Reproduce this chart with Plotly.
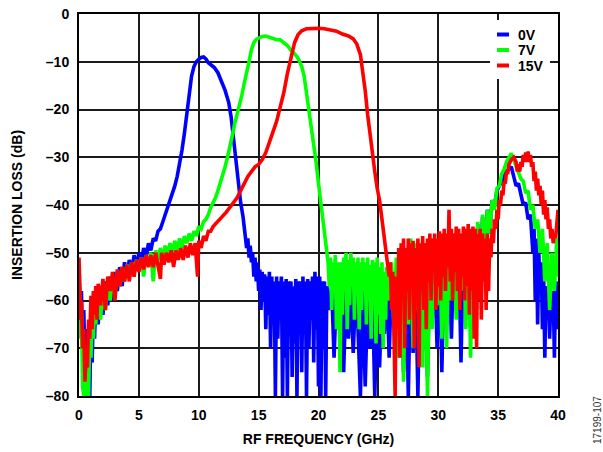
import plotly.graph_objects as go

# ---------------- data ----------------
SERIES_NAMES = ["0V", "7V", "15V"]
SERIES_COLORS = ["#0000FF", "#00FF00", "#FF0000"]

X_TICKS = [0, 5, 10, 15, 20, 25, 30, 35, 40]
X_TICK_TEXT = ["0", "5", "10", "15", "20", "25", "30", "35", "40"]
Y_TICKS = [0, -10, -20, -30, -40, -50, -60, -70, -80]
Y_TICK_TEXT = ["0", "–10", "–20", "–30", "–40", "–50", "–60", "–70", "–80"]

# 0V  (frequency GHz, insertion loss dB)
BLUE_0V = [
    (0.0, -53), (0.1, -64), (0.2, -58), (0.3, -70), (0.4, -62), (0.5, -76), (0.6, -66), (0.7, -80),
    (0.8, -68), (0.9, -80), (1.0, -64), (1.1, -73), (1.2, -61), (1.3, -68), (1.4, -59), (1.6, -65),
    (1.8, -57), (2.0, -63), (2.2, -56), (2.4, -61), (2.6, -55), (2.8, -60), (3.0, -54), (3.2, -58),
    (3.4, -53), (3.6, -57), (3.8, -52), (4.0, -55), (4.2, -51.5), (4.4, -54), (4.6, -50.5), (4.8, -53),
    (5.0, -50), (5.2, -52), (5.4, -49), (5.6, -51), (5.8, -48), (6.0, -49.5), (6.2, -47), (6.4, -47.5),
    (6.6, -45.5), (6.8, -45), (7.0, -43.5), (7.2, -42), (7.4, -41), (7.6, -39.5), (7.8, -38), (8.0, -36),
    (8.2, -34), (8.4, -31.5), (8.6, -28.5), (8.8, -25), (9.0, -21), (9.2, -16.5), (9.4, -13), (9.6, -11),
    (9.8, -10), (10.0, -9.5), (10.2, -9.1), (10.4, -9.0), (10.6, -9.4), (10.8, -10.2), (11.0, -10.6),
    (11.3, -11.2), (11.6, -12.3), (11.9, -14), (12.2, -16), (12.5, -18.5), (12.7, -21.5), (12.9, -26),
    (13.1, -31), (13.3, -36), (13.5, -39.5), (13.7, -42.5), (13.9, -46), (14.0, -49),
    (14.1, -47), (14.2, -51), (14.3, -48.5), (14.4, -52), (14.5, -50), (14.6, -55), (14.7, -51), (14.8, -56),
    (14.9, -52), (15.0, -58), (15.1, -53.5), (15.2, -62), (15.3, -54), (15.4, -60), (15.5, -54.5), (15.6, -66),
    (15.7, -55), (15.8, -63), (15.9, -54), (16.0, -70), (16.1, -55), (16.2, -64), (16.3, -56), (16.4, -80),
    (16.5, -55), (16.6, -68), (16.7, -56), (16.8, -62), (16.9, -55), (17.0, -80), (17.1, -56), (17.2, -72),
    (17.3, -55.5), (17.4, -80), (17.5, -56), (17.6, -66), (17.7, -56), (17.8, -76), (17.9, -57), (18.0, -69),
    (18.1, -55.5), (18.2, -80), (18.3, -56), (18.4, -64), (18.5, -56), (18.6, -75), (18.7, -55), (18.8, -67),
    (18.9, -56), (19.0, -80), (19.1, -55.5), (19.2, -70), (19.3, -56), (19.4, -64), (19.5, -55), (19.6, -73),
    (19.7, -54), (19.8, -66), (19.9, -55), (20.0, -78), (20.1, -55), (20.2, -80), (20.3, -56), (20.4, -70),
    (20.5, -56), (20.6, -80), (20.7, -57), (20.9, -62), (21.1, -57), (21.3, -72), (21.5, -58), (21.7, -66),
    (21.9, -57), (22.1, -75), (22.3, -58), (22.5, -68), (22.7, -57), (22.9, -71), (23.1, -58), (23.3, -66),
    (23.5, -80), (23.7, -58), (23.9, -78), (24.1, -60), (24.3, -70), (24.5, -57), (24.7, -80), (24.9, -59),
    (25.1, -74), (25.3, -58), (25.5, -67), (25.7, -56), (25.9, -72), (26.1, -55), (26.3, -65), (26.5, -54),
    (26.7, -70), (26.9, -53), (27.1, -75), (27.3, -54), (27.5, -80), (27.7, -53), (27.9, -71), (28.1, -54),
    (28.3, -80), (28.5, -52), (28.7, -68), (28.9, -53), (29.1, -76), (29.3, -52), (29.5, -64), (29.7, -51),
    (29.9, -70), (30.1, -51), (30.3, -75), (30.5, -50), (30.7, -63), (30.9, -49), (31.1, -68), (31.3, -50),
    (31.5, -62), (31.7, -48), (31.9, -73), (32.1, -48), (32.3, -60), (32.5, -47), (32.7, -65), (32.9, -45),
    (33.1, -58), (33.3, -44), (33.5, -55), (33.7, -42.5), (33.9, -50), (34.1, -41), (34.3, -46), (34.5, -39),
    (34.7, -40), (34.9, -37), (35.1, -36), (35.3, -35), (35.5, -34), (35.7, -33), (35.9, -32.5), (36.1, -32),
    (36.3, -34), (36.5, -36), (36.7, -35.5), (36.9, -38), (37.1, -40), (37.3, -39.5), (37.5, -43), (37.7, -42),
    (37.9, -50), (38.0, -45), (38.1, -60), (38.2, -47), (38.3, -65), (38.4, -50), (38.5, -58), (38.6, -52),
    (38.7, -66), (38.8, -55), (38.9, -72), (39.0, -57), (39.1, -64), (39.2, -58), (39.3, -68), (39.4, -60),
    (39.5, -63), (39.6, -58), (39.7, -72), (39.8, -57), (39.9, -66), (40.0, -56),
]

# 7V
GREEN_7V = [
    (0.0, -55), (0.1, -68), (0.2, -62), (0.3, -78), (0.4, -80), (0.5, -72), (0.6, -80), (0.7, -75),
    (0.8, -80), (0.9, -66), (1.0, -72), (1.1, -61), (1.2, -68), (1.3, -60), (1.4, -65), (1.6, -58),
    (1.8, -64), (2.0, -57), (2.2, -62), (2.4, -56), (2.6, -60), (2.8, -55), (3.0, -59), (3.2, -54),
    (3.4, -57), (3.6, -53), (3.8, -56), (4.0, -52.5), (4.2, -55), (4.4, -52), (4.6, -54), (4.8, -51.5),
    (5.0, -53.5), (5.2, -51), (5.4, -55), (5.6, -50.5), (5.8, -52), (6.0, -50), (6.2, -56), (6.4, -49.5),
    (6.6, -51.5), (6.8, -49), (7.0, -51), (7.2, -48.5), (7.4, -50.5), (7.6, -48), (7.8, -50), (8.0, -47.5),
    (8.2, -49.5), (8.4, -47), (8.6, -49), (8.8, -46.5), (9.0, -48), (9.2, -46), (9.4, -47.5), (9.6, -45.5),
    (9.8, -46.5), (10.0, -44.5), (10.2, -45), (10.4, -43.5), (10.6, -43), (10.8, -42), (11.0, -40.5),
    (11.2, -39.5), (11.4, -38.5), (11.6, -37), (11.8, -35.5), (12.0, -34), (12.2, -32), (12.4, -30),
    (12.6, -28), (12.8, -25.5), (13.0, -23), (13.2, -21), (13.4, -19.5), (13.6, -17), (13.8, -14.5),
    (14.0, -12.5), (14.2, -10), (14.4, -7.5), (14.6, -6), (14.8, -5.3), (15.0, -5), (15.3, -4.7),
    (15.6, -4.6), (15.9, -4.9), (16.2, -5.3), (16.5, -5.4), (16.8, -5.4), (17.1, -5.9), (17.4, -6.6),
    (17.7, -7.6), (18.0, -8.3), (18.3, -9.3), (18.6, -11), (18.8, -13), (19.0, -16.5), (19.2, -20),
    (19.4, -23), (19.6, -26.5), (19.8, -31), (20.0, -35.5), (20.2, -40), (20.4, -44.5), (20.6, -48.5),
    (20.8, -52), (20.9, -57),
    (21.0, -51), (21.1, -62), (21.2, -52), (21.3, -58), (21.4, -50.5), (21.5, -66), (21.6, -52), (21.7, -60),
    (21.8, -75), (21.9, -52), (22.0, -63), (22.1, -51), (22.2, -58), (22.3, -50), (22.4, -66), (22.5, -51.5),
    (22.6, -61), (22.7, -50), (22.8, -57), (22.9, -51), (23.0, -64), (23.1, -52), (23.2, -59), (23.3, -51),
    (23.4, -66), (23.5, -52), (23.6, -62), (23.7, -51), (23.8, -57), (23.9, -52), (24.0, -65), (24.1, -51),
    (24.2, -60), (24.3, -52.5), (24.4, -68), (24.5, -51.5), (24.6, -61), (24.7, -52), (24.8, -69), (24.9, -51),
    (25.0, -63), (25.1, -53), (25.2, -67), (25.3, -52), (25.4, -70), (25.5, -54), (25.6, -64), (25.7, -53),
    (25.9, -60), (26.1, -52), (26.3, -66), (26.5, -51), (26.7, -72), (26.9, -50), (27.1, -77), (27.3, -49),
    (27.5, -65), (27.7, -47), (27.9, -70), (28.1, -48), (28.3, -62), (28.5, -49), (28.7, -74), (28.9, -48),
    (29.1, -80), (29.3, -49), (29.5, -66), (29.7, -48), (29.9, -61), (30.1, -47), (30.3, -68), (30.5, -48),
    (30.7, -70), (30.9, -47), (31.1, -60), (31.3, -46), (31.5, -64), (31.7, -47), (31.9, -58), (32.1, -46),
    (32.3, -66), (32.5, -45), (32.7, -72), (32.9, -45), (33.1, -62), (33.3, -43.5), (33.5, -55), (33.7, -42),
    (33.9, -50), (34.1, -41), (34.3, -46), (34.5, -39), (34.7, -41), (34.9, -36.5), (35.1, -36), (35.3, -33.5),
    (35.5, -32.5), (35.7, -31), (35.9, -30), (36.1, -29.2), (36.3, -30.5), (36.5, -32), (36.7, -33),
    (36.9, -34.5), (37.1, -35), (37.3, -37.5), (37.5, -37), (37.7, -41), (37.9, -40), (38.1, -45), (38.3, -43),
    (38.5, -50), (38.7, -45), (38.9, -56), (39.1, -48), (39.3, -62), (39.5, -50), (39.7, -58), (39.9, -47),
    (40.0, -55),
]

# 15V
RED_15V = [
    (0.0, -51), (0.1, -58), (0.15, -64), (0.2, -60), (0.3, -70), (0.4, -66), (0.5, -77), (0.6, -70),
    (0.7, -74), (0.8, -64), (0.9, -68), (1.0, -59), (1.1, -66), (1.2, -58), (1.3, -63), (1.4, -57),
    (1.5, -64), (1.6, -56.5), (1.8, -61), (2.0, -55.5), (2.2, -62), (2.4, -55), (2.6, -58), (2.8, -54),
    (3.0, -60), (3.2, -53.5), (3.4, -57), (3.6, -53), (3.8, -56), (4.0, -52.5), (4.2, -56), (4.4, -52),
    (4.6, -55), (4.8, -51.5), (5.0, -54), (5.2, -51), (5.4, -53.5), (5.6, -50.5), (5.8, -53), (6.0, -50.5),
    (6.2, -53), (6.4, -50), (6.6, -52.5), (6.8, -55.5), (6.9, -50), (7.1, -52.5), (7.3, -50), (7.5, -52),
    (7.7, -49.5), (7.9, -53), (8.1, -49.5), (8.3, -51.5), (8.5, -49), (8.7, -51.5), (8.9, -48.5), (9.1, -51),
    (9.3, -48), (9.5, -50.5), (9.7, -48), (9.9, -55), (10.0, -47.5), (10.2, -49), (10.4, -46.5), (10.6, -47.5),
    (10.8, -45.5), (11.0, -45.5), (11.2, -44.5), (11.4, -44), (11.6, -43.5), (11.8, -43), (12.0, -42.5),
    (12.3, -41.5), (12.6, -40.5), (12.9, -39.5), (13.2, -38.5), (13.5, -37), (13.8, -35.5), (14.1, -34),
    (14.4, -33), (14.7, -32), (15.0, -31.5), (15.3, -30.5), (15.6, -29), (15.9, -27), (16.2, -25),
    (16.5, -22.5), (16.8, -19.5), (17.1, -16.5), (17.4, -12.5), (17.7, -9), (18.0, -6), (18.3, -4.3),
    (18.6, -3.5), (19.0, -3.1), (19.5, -3.0), (20.0, -3.0), (20.5, -3.1), (21.0, -3.3), (21.5, -3.6),
    (22.0, -4.2), (22.5, -4.6), (22.9, -5.2), (23.2, -6.3), (23.5, -8.5), (23.7, -12), (23.9, -16),
    (24.1, -21), (24.3, -25.5), (24.5, -29), (24.7, -33), (24.9, -36.5), (25.1, -39), (25.3, -43),
    (25.5, -47), (25.7, -50), (25.9, -55),
    (26.0, -52), (26.1, -62), (26.2, -54), (26.3, -70), (26.4, -80), (26.5, -55), (26.6, -66), (26.7, -49),
    (26.8, -72), (26.9, -48), (27.0, -60), (27.1, -47), (27.2, -70), (27.3, -49), (27.4, -58), (27.5, -47),
    (27.6, -64), (27.7, -48), (27.8, -55), (27.9, -47.5), (28.0, -70), (28.1, -49), (28.2, -60), (28.3, -47),
    (28.4, -74), (28.5, -48), (28.6, -58), (28.7, -46.5), (28.8, -62), (28.9, -48), (29.0, -66), (29.1, -47),
    (29.2, -56), (29.3, -46), (29.4, -60), (29.5, -47), (29.6, -54), (29.7, -46), (29.8, -62), (29.9, -47),
    (30.0, -57), (30.1, -45.5), (30.2, -60), (30.3, -46), (30.4, -55), (30.5, -45), (30.6, -58), (30.7, -46),
    (30.8, -53), (30.9, -41), (31.0, -56), (31.1, -45), (31.2, -60), (31.3, -46), (31.4, -54), (31.5, -44.5),
    (31.6, -58), (31.7, -45), (31.8, -62), (31.9, -46), (32.0, -55), (32.1, -44.5), (32.2, -60), (32.3, -45),
    (32.4, -57), (32.5, -44), (32.6, -63), (32.7, -45), (32.8, -58), (32.9, -44.5), (33.0, -68), (33.1, -45),
    (33.2, -70), (33.3, -46), (33.4, -60), (33.5, -45), (33.6, -64), (33.7, -46), (33.8, -56), (33.9, -47),
    (34.0, -62), (34.1, -46), (34.2, -58), (34.3, -47), (34.4, -51), (34.5, -45), (34.6, -48), (34.7, -43),
    (34.8, -45), (34.9, -41), (35.0, -43), (35.1, -39), (35.2, -40), (35.3, -37), (35.4, -38), (35.5, -35),
    (35.6, -35.5), (35.7, -33), (35.8, -33.5), (35.9, -31.5), (36.1, -30.5), (36.3, -30), (36.5, -31),
    (36.6, -33), (36.7, -31.5), (36.8, -33), (36.9, -31), (37.0, -32), (37.1, -29.5), (37.2, -31),
    (37.3, -29), (37.4, -31), (37.5, -28.8), (37.6, -31), (37.7, -29.5), (37.8, -32), (37.9, -31), (38.0, -35),
    (38.1, -33), (38.2, -37), (38.3, -34.5), (38.4, -38), (38.5, -36), (38.6, -40), (38.7, -37), (38.8, -42),
    (38.9, -39), (39.0, -43), (39.1, -40.5), (39.2, -45), (39.3, -43), (39.4, -47), (39.5, -45), (39.6, -48),
    (39.7, -46), (39.8, -47), (39.9, -43), (40.0, -41),
]

SERIES_DATA = [BLUE_0V, GREEN_7V, RED_15V]

# ---------------- figure ----------------
FONT = "Arial, 'Liberation Sans', sans-serif"
W, H = 603, 452
ML, MR, MT, MB = 79, 45, 14, 56
PW, PH = W - ML - MR, H - MT - MB


def px_to_paper(px, py):
    return (px - ML) / PW, (H - MB - py) / PH


fig = go.Figure()
for name, color, pts in zip(SERIES_NAMES, SERIES_COLORS, SERIES_DATA):
    xs = [p[0] for p in pts]
    ys = [p[1] for p in pts]
    fig.add_trace(go.Scatter(
        x=xs, y=ys, mode="lines", name=name,
        line=dict(color=color, width=3.6),
    ))

axis_common = dict(
    showgrid=True, gridcolor="#1a1a1a", gridwidth=1.5,
    showline=True, linecolor="black", linewidth=2, mirror=True,
    zeroline=False, ticks="", automargin=False,
    tickfont=dict(family=FONT, size=14, color="black", weight="bold"),
)

fig.update_layout(
    template="none",
    width=W, height=H,
    margin=dict(l=ML, r=MR, t=MT, b=MB),
    paper_bgcolor="white", plot_bgcolor="white",
    font=dict(family=FONT, color="black"),
    showlegend=False,
    xaxis=dict(
        range=[0, 40], tickmode="array", tickvals=X_TICKS, ticktext=X_TICK_TEXT,
        title=dict(text="RF FREQUENCY (GHz)", font=dict(family=FONT, size=14, weight="bold"), standoff=12),
        ticklabelstandoff=5,
        **axis_common,
    ),
    yaxis=dict(
        range=[-80, 0], tickmode="array", tickvals=Y_TICKS, ticktext=Y_TICK_TEXT,
        title=dict(text="INSERTION LOSS (dB)", font=dict(family=FONT, size=14, weight="bold"), standoff=20),
        ticklabelstandoff=5,
        **axis_common,
    ),
)

# legend (drawn as a white box with short line keys and bold labels)
x0, y0 = px_to_paper(490, 79)
x1, y1 = px_to_paper(550, 20)
fig.add_shape(type="rect", xref="paper", yref="paper", x0=x0, y0=y0, x1=x1, y1=y1,
              fillcolor="white", line=dict(width=0), layer="above")
for i, (name, color) in enumerate(zip(SERIES_NAMES, SERIES_COLORS)):
    ky = 34.5 + i * 15.5
    lx0, ly = px_to_paper(497, ky)
    lx1, _ = px_to_paper(509, ky)
    fig.add_shape(type="line", xref="paper", yref="paper", x0=lx0, x1=lx1, y0=ly, y1=ly,
                  line=dict(color=color, width=4), layer="above")
    tx, ty = px_to_paper(516, ky)
    fig.add_annotation(text=name, x=tx, y=ty, xref="paper", yref="paper",
                       xanchor="left", yanchor="middle", showarrow=False,
                       font=dict(family=FONT, size=14, color="black", weight="bold"))

ax, ay = px_to_paper(597, 420)
fig.add_annotation(
    text="17199-107", x=ax, y=ay, xref="paper", yref="paper",
    xanchor="center", yanchor="middle",
    textangle=-90, showarrow=False,
    font=dict(family=FONT, size=10, color="#333333"),
)

fig.write_html("out.html", config={"displayModeBar": False},
               post_script="document.body.style.margin='0px';")
